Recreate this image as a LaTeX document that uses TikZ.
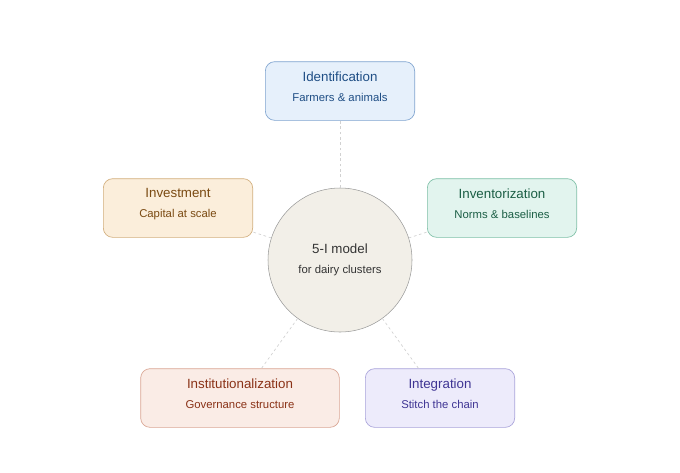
\documentclass[tikz,border=0pt]{standalone}
\usepackage{fontspec}
\setmainfont{Liberation Sans}
\usetikzlibrary{positioning}
\definecolor{idfill}{HTML}{E6F0FB}\definecolor{iddraw}{HTML}{7EA3CF}\definecolor{idtext}{HTML}{1F4E85}
\definecolor{invfill}{HTML}{E2F4EE}\definecolor{invdraw}{HTML}{7DBFA6}\definecolor{invtext}{HTML}{1B5E45}
\definecolor{capfill}{HTML}{FBEEDB}\definecolor{capdraw}{HTML}{D2AE7C}\definecolor{captext}{HTML}{7A4A12}
\definecolor{insfill}{HTML}{FAECE6}\definecolor{insdraw}{HTML}{D9A593}\definecolor{instext}{HTML}{8A3217}
\definecolor{intfill}{HTML}{EDEBFB}\definecolor{intdraw}{HTML}{A9A3DA}\definecolor{inttext}{HTML}{3F3594}
\definecolor{hubfill}{HTML}{F2EFE8}\definecolor{hubdraw}{HTML}{9A9A9A}
\newcommand{\boxtext}[2]{{\fontsize{10pt}{12pt}\selectfont #1}\\[3pt]{\fontsize{8.5pt}{10pt}\selectfont #2}}
\begin{document}
\begin{tikzpicture}[x=0.75pt,y=-0.75pt]
\tikzset{
  stage/.style={draw=#1draw, fill=#1fill, text=#1text, rounded corners=7pt, line width=0.5pt,
    minimum width=112pt, minimum height=44pt, align=center, inner sep=2pt},
  hub/.style={circle, draw=hubdraw, fill=hubfill, minimum size=108pt, align=center, text=black!80},
  link/.style={draw=black!18, dash pattern=on 2pt off 2pt, line width=0.5pt},
}
\useasboundingbox (0,0) rectangle (680,472);

\node [hub] (H) at (340,260) {\boxtext{5-I model}{for dairy clusters}};

\node [stage=id]  (ID)  at (340,91)  {\boxtext{Identification}{Farmers \& animals}\\[-5pt]};
\node [stage=inv] (INV) at (502,208) {\boxtext{Inventorization}{Norms \& baselines}\\[-5pt]};
\node [stage=cap] (CAP) at (178,208) {\boxtext{Investment}{Capital at scale}\\[-5pt]};
\node [stage=ins, minimum width=149pt] (INS) at (240,398) {\boxtext{Institutionalization}{Governance structure}\\[-5pt]};
\node [stage=int] (INT) at (440,398) {\boxtext{Integration}{Stitch the chain}\\[-5pt]};

\draw [link] (H) -- (ID);
\draw [link] (H) -- (INV);
\draw [link] (H) -- (CAP);
\draw [link] (H) -- (INS);
\draw [link] (H) -- (INT);

\end{tikzpicture}
\end{document}
